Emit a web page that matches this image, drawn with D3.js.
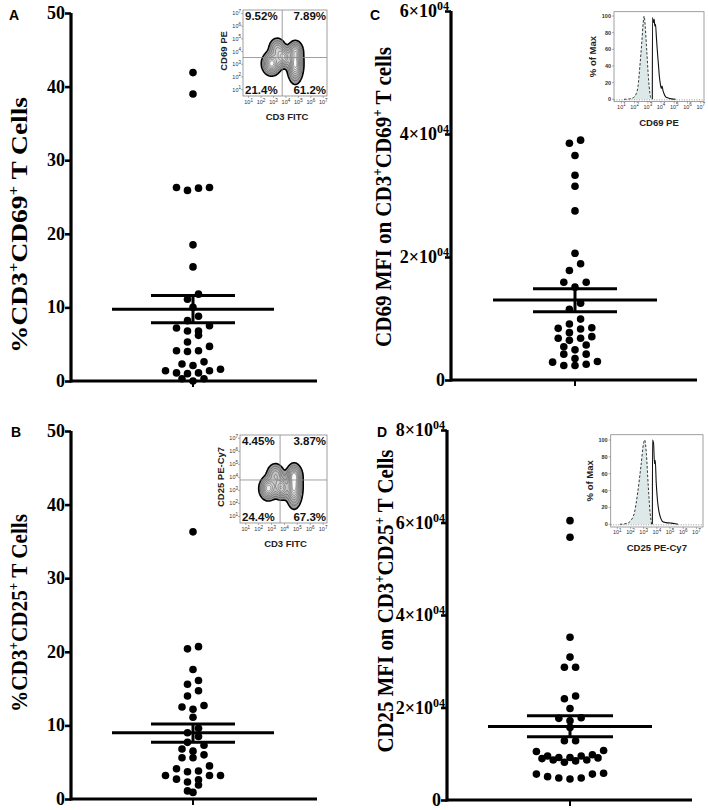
<!DOCTYPE html>
<html><head><meta charset="utf-8">
<script src="https://cdn.jsdelivr.net/npm/d3@7"></script>
<style>body{margin:0;background:#fff}</style>
</head><body>
<svg id="chart" width="708" height="810" xmlns="http://www.w3.org/2000/svg"></svg>
<script>
// ---------------- DATA ----------------
const cd69PctValues = [41.9,39.0,26.3,26.2,25.9,26.3,18.5,15.5,11.8,11.1,10.0,8.8,8.2,7.2,6.8,6.2,6.8,7.5,5.3,4.7,4.1,4.0,4.1,2.6,2.1,2.3,1.6,1.4,1.1,1.0,1.1,1.4,0.3,0.0,0.3];
const cd69PctSummary = [7.9, 9.75, 11.6];      // SEM low, mean, SEM high
const cd25PctValues = [36.3,20.4,20.7,17.6,15.6,16.1,14.7,14.0,12.7,12.2,12.5,11.1,9.6,9.0,8.5,7.7,7.3,6.8,6.5,6.0,5.6,5.6,4.1,4.5,3.7,3.8,3.2,3.2,3.2,2.7,2.6,2.3,1.9,0.9,1.1];
const cd25PctSummary = [7.7, 9.0, 10.2];
const cd69MfiValues = [39000,38500,36500,33300,31500,27500,20600,18900,17800,15900,15900,15100,12500,11500,9900,9100,8500,8300,7700,8400,7050,6450,6800,6800,5400,5700,4900,4200,4200,3000,3500,2550,2350,2350,2900];
const cd69MfiSummary = [11100, 13000, 14850];
const cd25MfiValues = [60400,56800,35200,30900,28700,28700,22500,21900,19800,17800,17650,17150,15700,12800,12800,10500,10700,9500,9200,9100,8650,8450,8150,8650,8950,9200,9500,9800,5800,5600,4750,4550,4750,5050,5600];
const cd25MfiSummary = [13700, 15900, 18200];

const pctTicks = [0,10,20,30,40,50];
const mfiTicksC = [0,20000,40000,60000];
const mfiTicksD = [0,20000,40000,60000,80000];

// Inset: flow quadrant percentages [UL, UR, LL, LR]
const quadA = ["9.52%","7.89%","21.4%","61.2%"];
const quadB = ["4.45%","3.87%","24.4%","67.3%"];
// Inset density peaks (log decades): [x, y, amplitude, sx, sy]
const peaksA = [[2.85,3.05,1.0,0.38,0.45],[3.3,4.2,0.55,0.35,0.45],[3.8,3.55,0.8,0.3,0.4],[4.75,3.05,1.0,0.32,0.75],[4.75,4.1,0.5,0.3,0.35]];
const peaksB = [[2.75,3.15,0.9,0.35,0.45],[3.3,4.2,0.55,0.35,0.45],[3.75,3.2,0.8,0.3,0.45],[4.75,3.3,1.0,0.32,0.8],[4.75,4.2,0.5,0.3,0.35]];
const decades = [1,2,3,4,5,6,7];
const pctMaxTicks = [0,20,40,60,80,100];
// Histograms: [log decade, % of max]
const histCctrl = [[1.2,0],[1.6,0.5],[1.9,2],[2.1,6],[2.25,15],[2.4,40],[2.55,70],[2.65,92],[2.72,100],[2.8,88],[2.92,58],[3.05,25],[3.15,8],[3.25,0]];
const histCstain = [[3.34,0],[3.35,98],[3.42,92],[3.48,96],[3.53,88],[3.58,90],[3.65,74],[3.72,58],[3.8,42],[3.87,28],[3.95,18],[4.02,13],[4.08,16],[4.14,11],[4.22,7],[4.35,3],[4.55,1.5],[4.8,0.5],[5.1,0]];
const histDctrl = [[1.2,0],[1.7,1],[2.0,4],[2.3,14],[2.55,38],[2.8,70],[2.98,95],[3.08,100],[3.2,85],[3.35,45],[3.5,12],[3.6,0]];
const histDstain = [[3.66,0],[3.67,100],[3.75,96],[3.82,72],[3.88,76],[3.95,50],[4.05,28],[4.15,16],[4.3,7],[4.45,3],[4.7,2],[5.0,1.5],[5.3,1],[5.6,0]];

// ---------------- DRAW ----------------
const svg = d3.select("#chart");
const serif = "Liberation Serif, Times New Roman, serif";
const sans = "Liberation Sans, Arial, Helvetica, sans-serif";

function swarm(values, y, step, diam) {
  const pts = values.map(v => ({v, py: y(v)})).sort((a,b) => a.py - b.py);
  const groups = []; let g = null;
  for (const p of pts) {
    if (!g || p.py - g.start > diam) { g = {start: p.py, items: []}; groups.push(g); }
    g.items.push(p);
  }
  groups.forEach(gr => {
    const n = gr.items.length;
    const slots = d3.range(n).map(i => i - (n-1)/2).sort((a,b) => Math.abs(a)-Math.abs(b) || a-b);
    gr.items.sort((a,b) => a.v - b.v).forEach((p,i) => p.dx = slots[i]*step);
  });
  return pts;
}

function addTitle(g, x, y, parts, size, len) {
  const t = g.append("text").attr("transform", `translate(${x},${y}) rotate(-90)`)
    .attr("text-anchor","middle").style("font-family", serif).attr("font-weight","bold")
    .attr("font-size", size).attr("fill","#000");
  parts.forEach(p => {
    if (p.sup) t.append("tspan").attr("dy", -size*0.38).attr("font-size", size*0.62).text(p.t);
    else t.append("tspan").attr("dy", p.after ? size*0.38 : 0).text(p.t);
  });
  if (len) t.attr("textLength", len).attr("lengthAdjust","spacingAndGlyphs");
}

function panel(cfg) {
  const g = svg.append("g");
  const y = d3.scaleLinear().domain([0, cfg.max]).range([cfg.y0, cfg.y1]);
  // y axis
  const ax = g.append("g").attr("transform", `translate(${cfg.ax},0)`)
    .call(d3.axisLeft(y).tickValues(cfg.ticks).tickSize(6).tickSizeOuter(0).tickFormat(""));
  ax.select(".domain").attr("stroke-width", 3.2).attr("d", `M0,${cfg.y0+1.5}V${cfg.y1}`);
  ax.selectAll(".tick line").attr("stroke-width", 2.6);
  // tick labels
  cfg.ticks.forEach(v => {
    const t = g.append("text").attr("x", cfg.ax - (cfg.sci && v ? 2 : 6)).attr("y", y(v) + 6)
      .attr("text-anchor","end").style("font-family", serif).attr("font-weight","bold")
      .attr("font-size", 18).attr("fill","#000");
    if (cfg.sci && v) {
      t.append("tspan").text(`${v/1e4}\u00d710`);
      t.append("tspan").attr("dy", -7).attr("font-size", 12).text("04");
    } else t.text(v);
  });
  // x axis
  const xs = d3.scaleLinear().domain([0,1]).range([cfg.ax, cfg.xEnd]);
  g.append("line").attr("x1", xs(0)).attr("x2", xs(1)).attr("y1", cfg.y0).attr("y2", cfg.y0)
    .attr("stroke","#000").attr("stroke-width",3.2);
  g.append("line").attr("x1", cfg.cx).attr("x2", cfg.cx).attr("y1", cfg.y0).attr("y2", cfg.y0+6)
    .attr("stroke","#000").attr("stroke-width",2);
  // points
  const pts = swarm(cfg.values, y, cfg.step, 7.2);
  g.selectAll("circle.pt").data(pts).join("circle").attr("class","pt")
    .attr("cx", d => cfg.cx + d.dx).attr("cy", d => d.py).attr("r", 3.8).attr("fill","#000");
  // mean & SEM
  const [lo, mean, hi] = cfg.summary;
  g.append("line").attr("x1", cfg.cx - cfg.meanHalf).attr("x2", cfg.cx + cfg.meanHalf)
    .attr("y1", y(mean)).attr("y2", y(mean)).attr("stroke","#000").attr("stroke-width",3);
  [lo, hi].forEach(v => g.append("line").attr("x1", cfg.cx - cfg.semHalf).attr("x2", cfg.cx + cfg.semHalf)
    .attr("y1", y(v)).attr("y2", y(v)).attr("stroke","#000").attr("stroke-width",3));
  g.append("line").attr("x1", cfg.cx).attr("x2", cfg.cx).attr("y1", y(lo)).attr("y2", y(hi))
    .attr("stroke","#000").attr("stroke-width",3);
  // letter
  g.append("text").attr("x", cfg.letter[0]).attr("y", cfg.letter[1]).style("font-family", sans)
    .attr("font-weight","bold").attr("font-size",14).text(cfg.letterText);
  addTitle(g, cfg.title[0], cfg.title[1], cfg.titleParts, cfg.titleSize, cfg.titleLen);
}

panel({values: cd69PctValues, summary: cd69PctSummary, max: 50, ticks: pctTicks, ax: 71, y0: 381, y1: 13,
  xEnd: 317, cx: 193, step: 11, meanHalf: 81, semHalf: 42, letter: [9,20], letterText: "A",
  title: [27, 225], titleSize: 24, titleLen: 256,
  titleParts: [{t:"%CD3"},{t:"+",sup:true},{t:"CD69",after:true},{t:"+",sup:true},{t:" T Cells",after:true}]});
panel({values: cd25PctValues, summary: cd25PctSummary, max: 50, ticks: pctTicks, ax: 71, y0: 799, y1: 431,
  xEnd: 317, cx: 193, step: 11, meanHalf: 81, semHalf: 42, letter: [11,437], letterText: "B",
  title: [27, 613], titleSize: 23, titleLen: 198,
  titleParts: [{t:"%CD3"},{t:"+",sup:true},{t:"CD25",after:true},{t:"+",sup:true},{t:" T Cells",after:true}]});
panel({values: cd69MfiValues, summary: cd69MfiSummary, max: 60000, ticks: mfiTicksC, sci: true, ax: 451, y0: 380, y1: 11,
  xEnd: 697, cx: 575, step: 11.2, meanHalf: 82, semHalf: 42, letter: [370,20], letterText: "C",
  title: [391, 197], titleSize: 24, titleLen: 300,
  titleParts: [{t:"CD69 MFI on CD3"},{t:"+",sup:true},{t:"CD69",after:true},{t:"+",sup:true},{t:" T cells",after:true}]});
panel({values: cd25MfiValues, summary: cd25MfiSummary, max: 80000, ticks: mfiTicksD, sci: true, ax: 447, y0: 800, y1: 430,
  xEnd: 692, cx: 570, step: 11.2, meanHalf: 82, semHalf: 43, letter: [377,437], letterText: "D",
  title: [393, 601], titleSize: 24, titleLen: 303,
  titleParts: [{t:"CD25 MFI on CD3"},{t:"+",sup:true},{t:"CD25",after:true},{t:"+",sup:true},{t:" T Cells",after:true}]});

// ---------- decade tick labels ----------
function decLabel(g, x, y, d, anchor) {
  const t = g.append("text").attr("x", x).attr("y", y).attr("text-anchor", anchor)
    .style("font-family", sans).attr("font-size", 5.5).attr("fill","#333");
  t.append("tspan").text("10");
  t.append("tspan").attr("dy", -2.5).attr("font-size", 4.5).text(d);
}

// ---------- contour insets ----------
function contourInset(c) {
  const g = svg.append("g");
  const sx = d3.scaleLinear().domain(c.xd).range([c.x0, c.x1]);
  const sy = d3.scaleLinear().domain(c.yd).range([c.y1, c.y0]);
  const n = 90;
  const gx = d3.scaleLinear().domain([0, n]).range(c.xd);
  const gy = d3.scaleLinear().domain([0, n]).range(c.yd);
  const grid = new Array(n*n);
  for (let j = 0; j < n; j++) for (let i = 0; i < n; i++) {
    const X = gx(i+0.5), Y = gy(j+0.5);
    grid[j*n+i] = d3.sum(c.peaks, p => p[2]*Math.exp(-((X-p[0])**2/(2*p[3]**2) + (Y-p[1])**2/(2*p[4]**2))));
  }
  const thresholds = [0.09,0.2,0.32,0.45,0.58,0.7,0.82,0.92];
  const cont = d3.contours().size([n,n]).thresholds(thresholds)(grid);
  const path = d3.geoPath(d3.geoTransform({point(x,yv){ this.stream.point(sx(gx(x)), sy(gy(yv))); }}));
  const fill = d3.scaleLinear().domain([0, thresholds.length-1]).range(["#9a9a9a","#fafafa"]);
  g.selectAll("path.c").data(cont).join("path").attr("d", path)
    .attr("fill", (d,i) => fill(i)).attr("stroke", (d,i)=> i===0 ? "#000" : "#444")
    .attr("stroke-width", (d,i) => i===0 ? 1.6 : 0.5);
  // frame and quadrant lines
  g.append("rect").attr("x", c.x0).attr("y", c.y0).attr("width", c.x1-c.x0).attr("height", c.y1-c.y0)
    .attr("fill","none").attr("stroke","#888").attr("stroke-width",0.8);
  g.append("line").attr("x1", sx(c.qx)).attr("x2", sx(c.qx)).attr("y1", c.y0).attr("y2", c.y1).attr("stroke","#888").attr("stroke-width",0.8);
  g.append("line").attr("x1", c.x0).attr("x2", c.x1).attr("y1", sy(c.qy)).attr("y2", sy(c.qy)).attr("stroke","#888").attr("stroke-width",0.8);
  decades.forEach(d => {
    decLabel(g, c.x0 - 2, sy(d) + 2, d, "end");
    decLabel(g, sx(d), c.y1 + 8, d, "middle");
    g.append("line").attr("x1", sx(d)).attr("x2", sx(d)).attr("y1", c.y1).attr("y2", c.y1+2).attr("stroke","#666").attr("stroke-width",0.5);
    g.append("line").attr("x1", c.x0-2).attr("x2", c.x0).attr("y1", sy(d)).attr("y2", sy(d)).attr("stroke","#666").attr("stroke-width",0.5);
  });
  const q = c.quad;
  const qt = (x, y, s, a) => g.append("text").attr("x", x).attr("y", y).attr("text-anchor", a)
    .style("font-family", sans).attr("font-weight","bold").attr("font-size", 11.5).attr("fill","#111").text(s);
  qt(c.x0 + 2, c.y0 + 10, q[0], "start");
  qt(c.x1 - 1, c.y0 + 10, q[1], "end");
  qt(c.x0 + 2, c.y1 - 2.5, q[2], "start");
  qt(c.x1 - 1, c.y1 - 2.5, q[3], "end");
  g.append("text").attr("x", (c.x0+c.x1)/2 + 2).attr("y", c.y1 + 24).attr("text-anchor","middle")
    .style("font-family", sans).attr("font-weight","bold").attr("font-size", 9.5).attr("fill","#222").text(c.xlab);
  g.append("text").attr("transform", `translate(${c.x0-16},${(c.y0+c.y1)/2 - 2}) rotate(-90)`).attr("text-anchor","middle")
    .style("font-family", sans).attr("font-weight","bold").attr("font-size", 9.5).attr("fill","#222").text(c.ylab);
}
contourInset({x0: 243, x1: 327, y0: 10, y1: 96, xd: [0.55, 7.3], yd: [0.5, 7.27], qx: 3.7, qy: 3.53,
  peaks: peaksA, quad: quadA, xlab: "CD3 FITC", ylab: "CD69 PE"});
contourInset({x0: 240, x1: 327, y0: 435, y1: 523, xd: [0.55, 7.3], yd: [0.5, 7.25], qx: 3.66, qy: 3.8,
  peaks: peaksB, quad: quadB, xlab: "CD3 FITC", ylab: "CD25 PE-Cy7"});

// ---------- histogram insets ----------
function histInset(c) {
  const g = svg.append("g");
  const sx = d3.scaleLinear().domain(c.xd).range([c.x0, c.x1]);
  const sy = d3.scaleLinear().domain([0, 100]).range([c.yZero, c.y100]);
  g.append("rect").attr("x", c.x0).attr("y", c.y0).attr("width", c.x1-c.x0).attr("height", c.y1-c.y0)
    .attr("fill","none").attr("stroke","#888").attr("stroke-width",0.8);
  const area = d3.area().x(d => sx(d[0])).y0(sy(0)).y1(d => sy(d[1])).curve(d3.curveMonotoneX);
  const line = d3.line().x(d => sx(d[0])).y(d => sy(d[1])).curve(d3.curveMonotoneX);
  g.append("path").attr("d", area(c.ctrl)).attr("fill","#dde9e9");
  g.append("path").attr("d", line(c.ctrl)).attr("fill","none").attr("stroke","#222").attr("stroke-width",0.9).attr("stroke-dasharray","2.5,1.8");
  g.append("path").attr("d", line(c.stain)).attr("fill","none").attr("stroke","#111").attr("stroke-width",1.1);
  g.append("line").attr("x1", c.x0).attr("x2", c.x1).attr("y1", sy(0)+0.5).attr("y2", sy(0)+0.5).attr("stroke","#555").attr("stroke-width",0.6).attr("stroke-dasharray","1,1.5");
  pctMaxTicks.forEach(v => {
    g.append("text").attr("x", c.x0 - 3).attr("y", sy(v) + 2).attr("text-anchor","end")
      .style("font-family", sans).attr("font-weight","bold").attr("font-size", 5.5).attr("fill","#333").text(v);
    g.append("line").attr("x1", c.x0-2).attr("x2", c.x0).attr("y1", sy(v)).attr("y2", sy(v)).attr("stroke","#666").attr("stroke-width",0.5);
  });
  decades.forEach(d => {
    decLabel(g, sx(d), c.y1 + 7, d, "middle");
    g.append("line").attr("x1", sx(d)).attr("x2", sx(d)).attr("y1", c.y1).attr("y2", c.y1+2).attr("stroke","#666").attr("stroke-width",0.5);
  });
  g.append("text").attr("x", (c.x0+c.x1)/2).attr("y", c.y1 + 24).attr("text-anchor","middle")
    .style("font-family", sans).attr("font-weight","bold").attr("font-size", 9.5).attr("fill","#222").text(c.xlab);
  g.append("text").attr("transform", `translate(${c.x0-18},${(c.y0+c.y1)/2}) rotate(-90)`).attr("text-anchor","middle")
    .style("font-family", sans).attr("font-weight","bold").attr("font-size", 9.5).attr("fill","#222").text("% of Max");
}
histInset({x0: 614, x1: 704, y0: 11.7, y1: 101.5, yZero: 99.3, y100: 16, xd: [0.44, 7.25],
  ctrl: histCctrl, stain: histCstain, xlab: "CD69 PE"});
histInset({x0: 610.7, x1: 703, y0: 434.7, y1: 527, yZero: 524.3, y100: 440, xd: [0.5, 7.5],
  ctrl: histDctrl, stain: histDstain, xlab: "CD25 PE-Cy7"});
</script>
</body></html>
